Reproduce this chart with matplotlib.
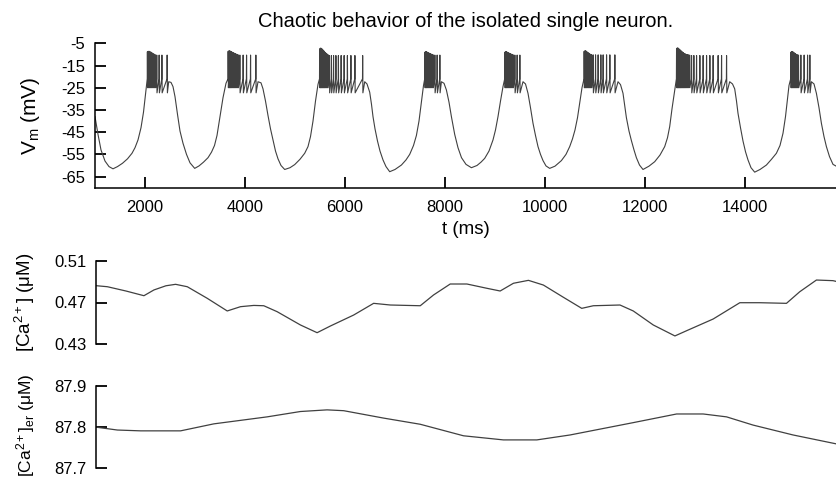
import numpy as np
import matplotlib
matplotlib.use("Agg")
import matplotlib.pyplot as plt

plt.rcParams['font.family'] = ['Liberation Sans', 'DejaVu Sans']
plt.rcParams['axes.unicode_minus'] = False
plt.rcParams['mathtext.fontset'] = 'custom'
plt.rcParams['mathtext.rm'] = 'Liberation Sans'
plt.rcParams['mathtext.it'] = 'Liberation Sans:italic'
plt.rcParams['mathtext.default'] = 'regular'

# ---------------- data ----------------
# slow wave of membrane potential (ms, mV), outside the bursts
env_t = [1000, 1060, 1120, 1200, 1280, 1360, 1450, 1550, 1650, 1740, 1800, 1860, 1920, 1970, 2005, 2030,
         2474, 2520, 2560, 2600, 2650, 2700, 2760, 2830, 2900, 2994, 3080, 3170, 3260, 3330, 3390, 3440, 3500, 3560, 3620,
         4260, 4320, 4360, 4410, 4460, 4510, 4560, 4610, 4660, 4720, 4794, 4900, 4994, 5100, 5194, 5260, 5310, 5360, 5410, 5460,
         6394, 6440, 6494, 6530, 6560, 6600, 6650, 6700, 6760, 6820, 6894, 7000, 7128, 7220, 7294, 7370, 7428, 7480, 7528, 7570,
         7928, 7980, 8028, 8080, 8128, 8194, 8260, 8330, 8420, 8528, 8640, 8720, 8794, 8880, 8960, 9010, 9060, 9110, 9160,
         9560, 9610, 9660, 9710, 9760, 9810, 9860, 9910, 9960, 10020, 10094, 10200, 10328, 10420, 10494, 10550, 10600, 10650, 10694, 10740,
         11460, 11510, 11560, 11590, 11628, 11680, 11728, 11780, 11828, 11890, 11960, 12080, 12194, 12300, 12394, 12450, 12494, 12540, 12594,
         13694, 13750, 13794, 13830, 13860, 13910, 13960, 14010, 14060, 14120, 14194, 14300, 14428, 14530, 14628, 14700, 14760, 14810, 14848, 14880,
         15328, 15380, 15428, 15480, 15528, 15580, 15628, 15690, 15760, 15840]
env_v = [-38.0, -46.0, -53.0, -58.0, -60.5, -61.5, -60.5, -59.0, -57.0, -54.5, -52.0, -48.5, -43.0, -36.0, -29.0, -24.0,
         -22.3, -22.6, -24.5, -29.0, -37.0, -44.5, -50.0, -55.0, -58.8, -61.3, -60.2, -58.5, -56.5, -54.0, -51.0, -46.5, -38.0, -29.5, -23.0,
         -22.3, -22.8, -25.5, -31.0, -37.5, -43.5, -48.5, -53.5, -57.0, -60.0, -61.8, -61.0, -59.6, -57.2, -54.5, -51.5, -47.0, -40.0, -31.0, -23.5,
         -22.3, -23.3, -27.0, -32.5, -38.0, -43.5, -49.0, -53.5, -57.5, -60.5, -62.8, -61.8, -59.8, -57.5, -55.0, -51.0, -46.5, -40.0, -31.5, -24.0,
         -22.3, -23.0, -26.0, -31.5, -38.0, -46.0, -52.0, -56.5, -59.5, -61.0, -60.0, -58.5, -56.8, -53.5, -48.5, -44.0, -38.0, -31.0, -24.5,
         -22.3, -23.3, -27.5, -34.0, -41.0, -46.5, -51.5, -55.0, -57.8, -60.2, -61.3, -60.3, -57.8, -55.0, -51.5, -48.0, -44.0, -38.5, -32.0, -25.0,
         -22.3, -23.6, -27.5, -32.5, -38.5, -44.5, -48.8, -53.0, -56.5, -59.8, -61.8, -60.3, -58.3, -55.3, -51.5, -47.5, -42.5, -34.5, -26.0,
         -22.3, -23.3, -25.5, -31.0, -36.5, -43.0, -49.0, -53.8, -57.5, -61.0, -63.0, -61.8, -59.8, -57.2, -54.5, -51.0, -45.5, -38.0, -30.5, -24.0,
         -22.3, -23.3, -27.5, -34.0, -41.0, -47.0, -51.5, -56.0, -59.5, -60.5]

# spike times (ms) of each burst: tightly packed first spikes, then spaced ones
dense_spikes = [
    [2045, 2062, 2080, 2098, 2117, 2137, 2158, 2180, 2205],
    [3660, 3676, 3692, 3708, 3725, 3742, 3760, 3778, 3797, 3817, 3838, 3860],
    [5490, 5503, 5516, 5530, 5544, 5558, 5573, 5588, 5604, 5620, 5637, 5655],
    [7594, 7610, 7626, 7643, 7660, 7678, 7697, 7717, 7738, 7760],
    [9194, 9210, 9226, 9243, 9260, 9278, 9297, 9317, 9338, 9360],
    [10780, 10795, 10810, 10826, 10842, 10859, 10876, 10894, 10912, 10930],
    [12628, 12641, 12654, 12667, 12681, 12695, 12709, 12724, 12739, 12755, 12771, 12788, 12806, 12825, 12845, 12866, 12890],
    [14914, 14929, 14944, 14960, 14976, 14993, 15010, 15028, 15047, 15067],
]
# peak of each tightly packed spike (mV), same layout as dense_spikes
dense_peaks = [
    [-8.8, -8.6, -8.6, -8.8, -9.0, -9.3, -9.6, -9.9, -10.2],
    [-8.6, -8.4, -8.4, -8.6, -8.8, -9.0, -9.2, -9.4, -9.6, -9.8, -10.0, -10.2],
    [-7.6, -7.2, -7.2, -7.4, -7.7, -8.0, -8.4, -8.8, -9.2, -9.5, -9.8, -10.1],
    [-9.0, -8.8, -8.8, -9.0, -9.2, -9.4, -9.6, -9.8, -10.0, -10.2],
    [-9.0, -8.8, -8.8, -9.0, -9.2, -9.4, -9.6, -9.8, -10.0, -10.2],
    [-8.6, -8.4, -8.4, -8.6, -8.9, -9.2, -9.5, -9.8, -10.0, -10.2],
    [-7.5, -7.1, -7.1, -7.3, -7.6, -7.9, -8.2, -8.5, -8.8, -9.1, -9.4, -9.6, -9.8, -10.0, -10.1, -10.2, -10.3],
    [-9.0, -8.7, -8.7, -8.9, -9.2, -9.5, -9.8, -10.0, -10.2, -10.3],
]
sparse_spikes = [
    [2232, 2280, 2335, 2440],
    [3894, 3960, 4028, 4108, 4214],
    [5685, 5725, 5768, 5815, 5865, 5920, 5980, 6045, 6115, 6195, 6350],
    [7794, 7840, 7894],
    [9394, 9440, 9494],
    [10960, 11008, 11060, 11114, 11160, 11228, 11294, 11394],
    [12928, 12974, 13028, 13094, 13160, 13228, 13294, 13360, 13460, 13528, 13628],
    [15114, 15180, 15248, 15294],
]
sparse_peak = [-10.3, -10.3, -10.5, -10.3, -10.3, -10.2, -10.5, -10.3]
dense_trough = -25.0
sparse_trough = -27.3
spike_threshold = -21.0

# cytosolic calcium (ms, uM)
ca_t = [1000, 1228, 1600, 1960, 2160, 2400, 2594, 2828, 3228, 3628, 3894, 4160, 4360, 4628, 5094, 5428, 5694,
        6160, 6560, 6894, 7494, 7760, 8094, 8428, 8828, 9094, 9360, 9660, 9960, 10360, 10728, 10960, 11494,
        11760, 12160, 12594, 12828, 13360, 13894, 14294, 14828, 15094, 15428, 15760, 15840]
ca_v = [0.4861, 0.4851, 0.4810, 0.4765, 0.4820, 0.4860, 0.4874, 0.4851, 0.4740, 0.4619, 0.4660, 0.4672, 0.4669, 0.4612,
        0.4485, 0.4411, 0.4475, 0.4580, 0.4692, 0.4676, 0.4669, 0.4772, 0.4877, 0.4877, 0.4836, 0.4810, 0.4884, 0.4912,
        0.4867, 0.4750, 0.4644, 0.4669, 0.4676, 0.4619, 0.4485, 0.4380, 0.4430, 0.4542, 0.4698, 0.4698, 0.4692, 0.4803,
        0.4915, 0.4909, 0.4900]

# ER calcium (ms, uM)
er_t = [1000, 1428, 1894, 2694, 3360, 4428, 5094, 5628, 5960, 6760, 7494, 8360, 9160, 9828, 10494, 11760,
        12628, 13160, 13628, 14160, 14960, 15840]
er_v = [87.800, 87.793, 87.791, 87.791, 87.808, 87.825, 87.838, 87.842, 87.840, 87.822, 87.807, 87.779, 87.769,
        87.769, 87.781, 87.811, 87.832, 87.832, 87.825, 87.805, 87.781, 87.759]

xticks = [2000, 4000, 6000, 8000, 10000, 12000, 14000]
vm_ticks = [-5, -15, -25, -35, -45, -55, -65]
ca_ticks = [0.43, 0.47, 0.51]
er_ticks = [87.7, 87.8, 87.9]

# ------------- build membrane trace -------------
t_all = list(env_t)
v_all = list(env_v)
for i in range(len(dense_spikes)):
    for ts, pk in zip(dense_spikes[i], dense_peaks[i]):
        t_all += [ts, ts + 3, ts + 8]
        v_all += [spike_threshold, pk, dense_trough]
    for ts in sparse_spikes[i]:
        t_all += [ts, ts + 3, ts + 8]
        v_all += [spike_threshold, sparse_peak[i], sparse_trough]
order = np.argsort(t_all, kind='stable')
t_all = np.array(t_all)[order]
v_all = np.array(v_all)[order]

# ---------------- figure ----------------
W, H = 837, 479
fig = plt.figure(figsize=(W / 100, H / 100), dpi=100)
line_col = '#404040'
tick_fs = 12
lab_fs = 13.5
title_fs = 14.5

def frac(l, t, r, b):
    return [l / W, 1 - b / H, (r - l) / W, (b - t) / H]

ax1 = fig.add_axes(frac(95, 43.3, 837, 187.7))
ax2 = fig.add_axes(frac(96, 260.7, 837, 344.3))
ax3 = fig.add_axes(frac(96, 386, 837, 468.3))

ax1.plot(t_all, v_all, color=line_col, lw=0.8)
ax2.plot(ca_t, ca_v, color=line_col, lw=0.9)
ax3.plot(er_t, er_v, color=line_col, lw=0.9)

for ax in (ax1, ax2, ax3):
    ax.set_xlim(1000, 15840)
    for s in ('top', 'right'):
        ax.spines[s].set_visible(False)
    ax.spines['left'].set_linewidth(1.1)
    ax.spines['bottom'].set_linewidth(1.1)
    ax.tick_params(axis='y', direction='in', length=8, width=1.3, pad=7, labelsize=tick_fs)
    ax.tick_params(axis='x', direction='in', length=8, width=1.3, pad=9, labelsize=tick_fs)

ax1.set_ylim(-70, -5)
ax1.set_yticks(vm_ticks)
ax1.set_yticklabels([str(v) for v in vm_ticks])
ax1.set_xticks(xticks)
ax1.set_xticklabels([str(v) for v in xticks])
ax1.set_xlabel('t (ms)', fontsize=lab_fs, labelpad=4)
ax1.set_ylabel(r'V$_\mathregular{m}$ (mV)', fontsize=15)
ax1.set_title('Chaotic behavior of the isolated single neuron.', fontsize=title_fs, pad=12)

for ax in (ax2, ax3):
    ax.spines['bottom'].set_visible(False)
    ax.set_xticks([])

ax2.set_ylim(0.43, 0.51)
ax2.set_yticks(ca_ticks)
ax2.set_yticklabels(['%.2f' % v for v in ca_ticks])
ax2.set_ylabel(r'[Ca$^\mathregular{2+}$] (μM)', fontsize=lab_fs)

ax3.set_ylim(87.7, 87.9)
ax3.set_yticks(er_ticks)
ax3.set_yticklabels(['%.1f' % v for v in er_ticks])
ax3.set_ylabel(r'[Ca$^\mathregular{2+}$]$_\mathregular{er}$ (μM)', fontsize=12.5)

ax1.yaxis.set_label_coords(-0.072, 0.5)
ax2.yaxis.set_label_coords(-0.079, 0.5)
ax3.yaxis.set_label_coords(-0.079, 0.53)

fig.savefig('out.png', dpi=100)
